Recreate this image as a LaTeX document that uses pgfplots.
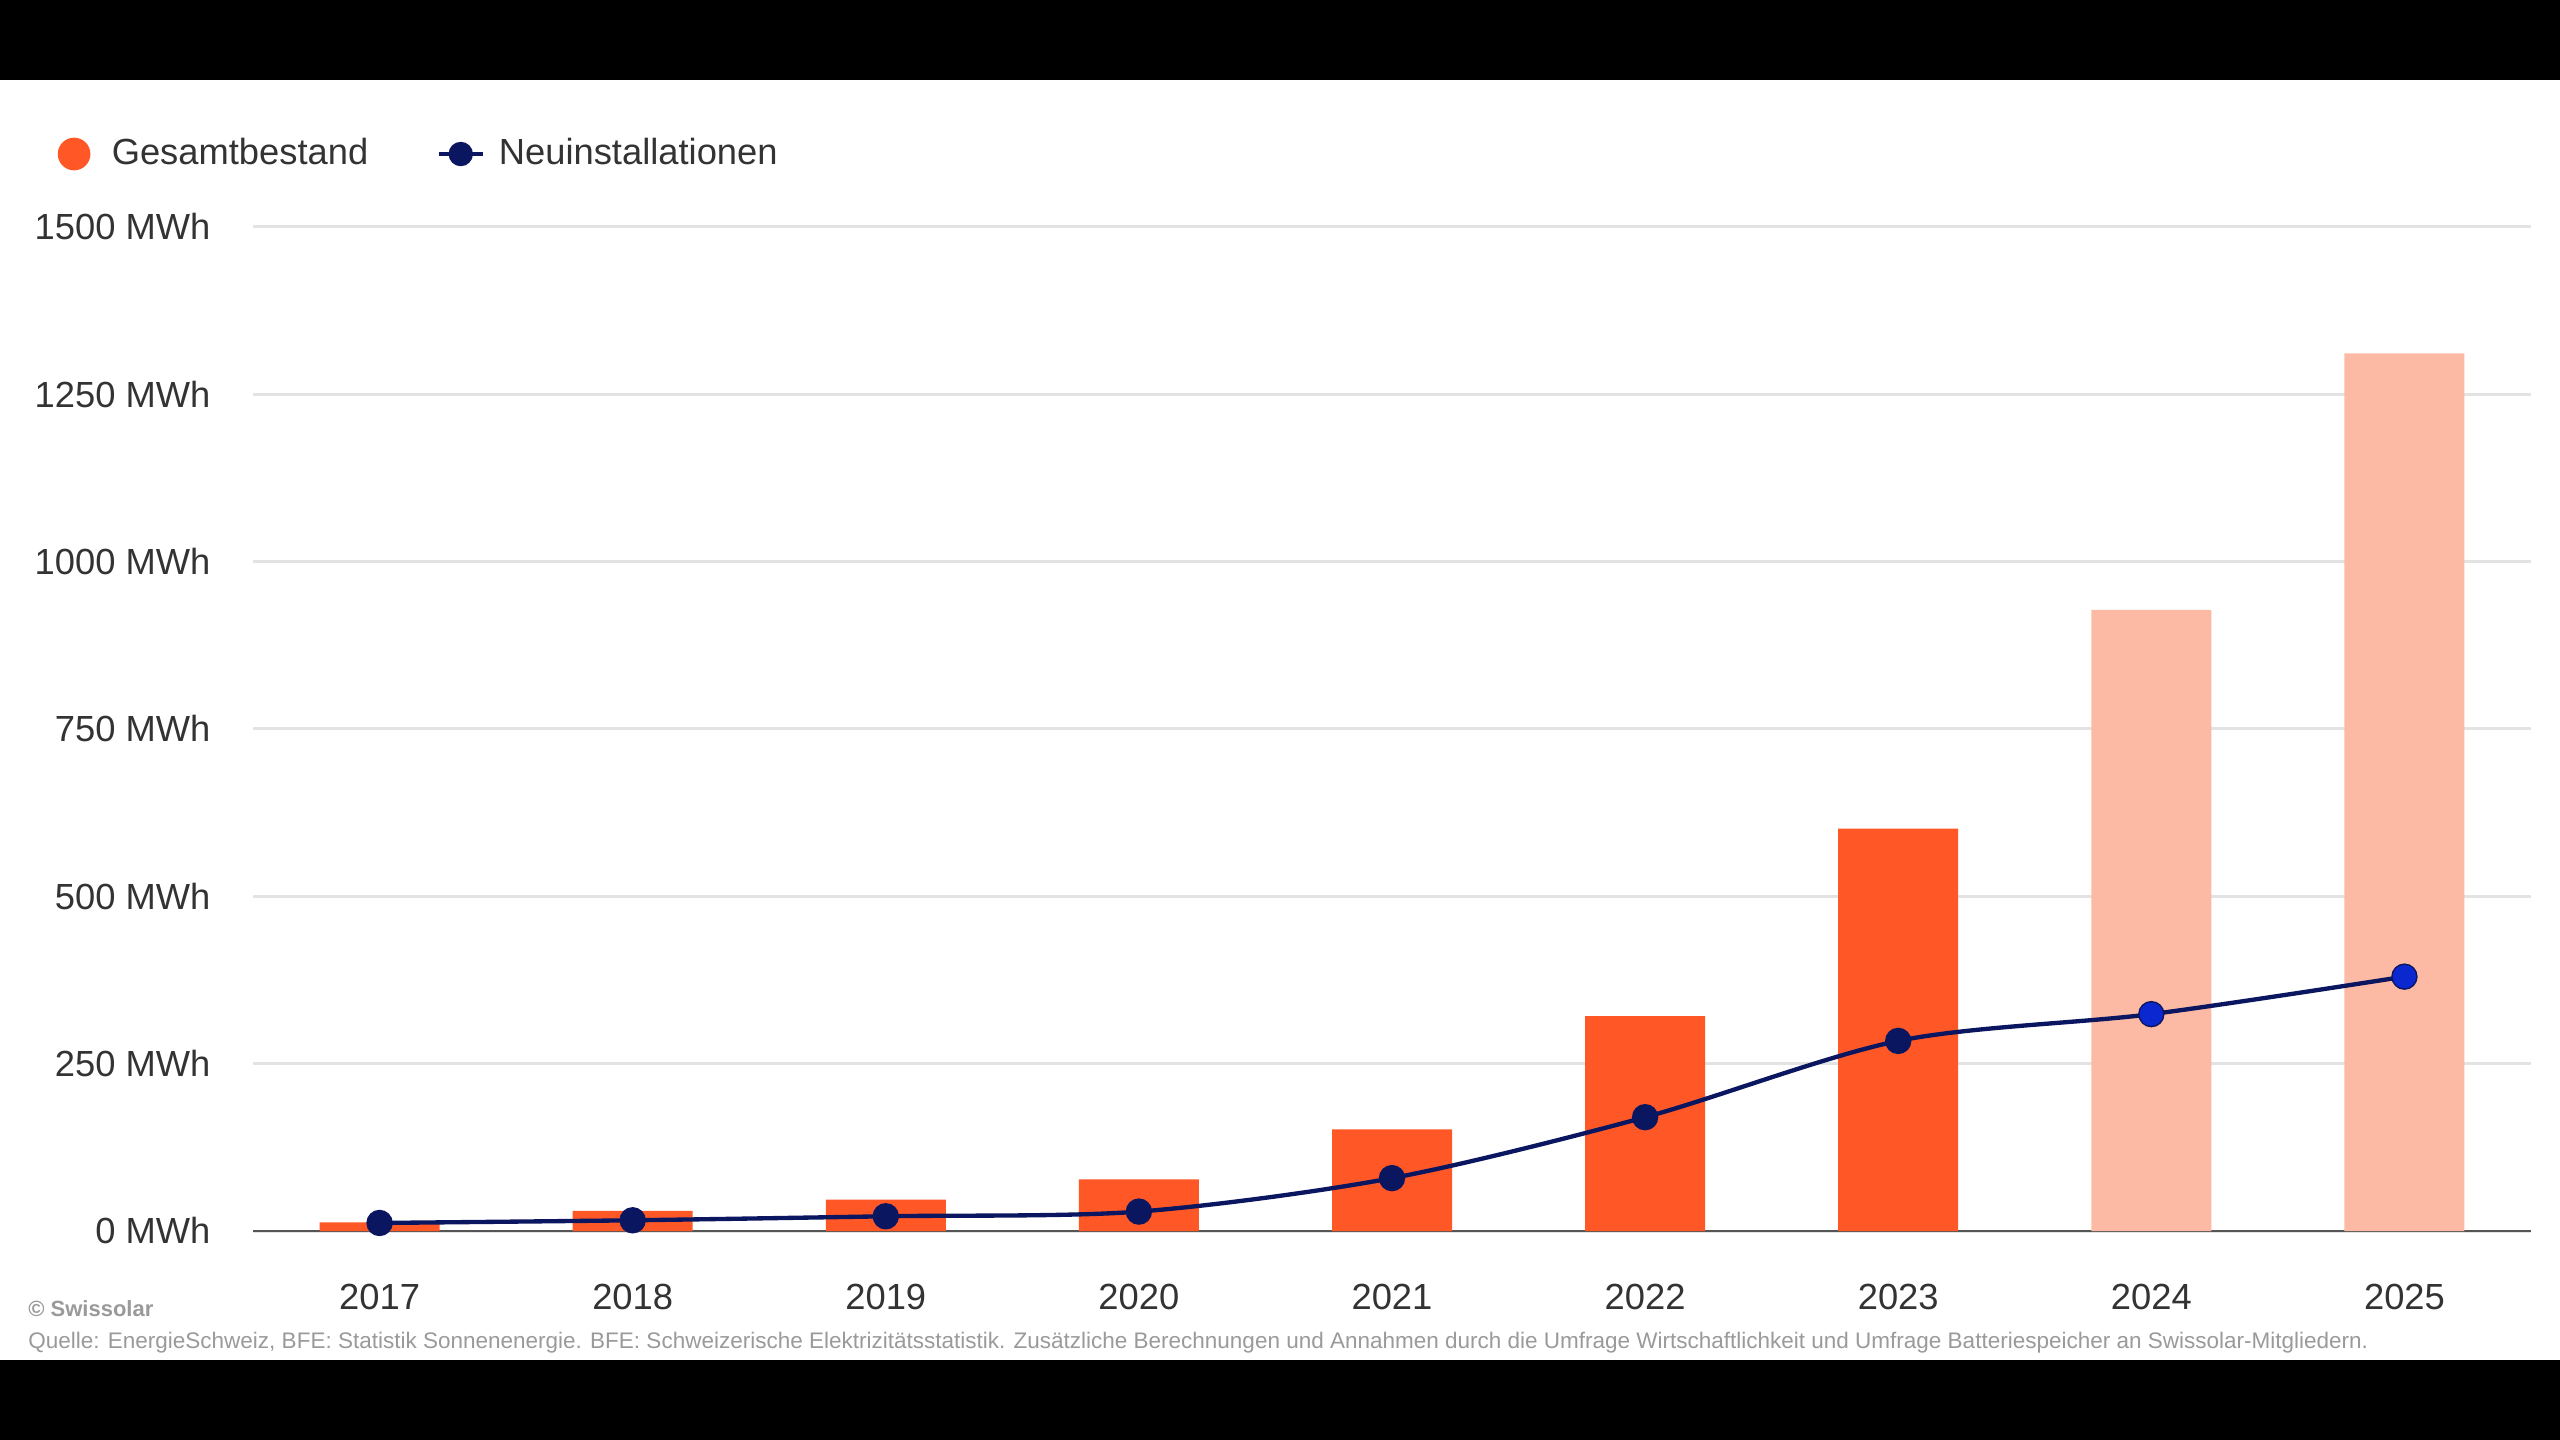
\documentclass[border=0pt]{standalone}
\usepackage{pgfplots}
\pgfplotsset{compat=1.18}
\usepackage{fontspec}
\setmainfont{Liberation Sans}

\definecolor{barorange}{HTML}{FF5726}
\definecolor{barlight}{HTML}{FCB9A4}
\definecolor{navy}{HTML}{0B1660}
\definecolor{brightblue}{HTML}{0B27D0}
\definecolor{txt}{HTML}{333333}
\definecolor{gridgray}{HTML}{E3E3E3}
\definecolor{axisgray}{HTML}{555555}
\definecolor{footgray}{HTML}{9A9A9A}

\newcommand{\lblfont}{\fontsize{10.9bp}{13bp}\selectfont}

\begin{document}
\begin{tikzpicture}
\path[use as bounding box] (0,0) rectangle (768bp,432bp);
\fill[white] (0,24bp) rectangle (768bp,408bp);
\fill[black] (0,0) rectangle (768bp,24bp);
\fill[black] (0,408bp) rectangle (768bp,432bp);

\begin{axis}[
    at={(75.9bp,62.7bp)}, anchor=south west,
    width=683.4bp, height=301.2bp, scale only axis,
    xmin=-0.5, xmax=8.5,
    ymin=0, ymax=1500,
    xtick={0,1,2,3,4,5,6,7,8},
    xticklabels={2017,2018,2019,2020,2021,2022,2023,2024,2025},
    ytick={0,250,500,750,1000,1250,1500},
    yticklabels={0 MWh,250 MWh,500 MWh,750 MWh,1000 MWh,1250 MWh,1500 MWh},
    axis y line*=left,
    y axis line style={draw=none},
    axis x line*=bottom,
    x axis line style={color=axisgray, line width=0.7bp, -},
    ymajorgrids=true,
    grid style={color=gridgray, line width=0.9bp},
    major tick length=0pt,
    tick label style={font=\lblfont, text=txt, inner sep=0pt},
    yticklabel style={anchor=east, xshift=-12.6bp},
    xticklabel style={anchor=base, yshift=-23.5bp},
    legend columns=2,
    legend cell align=left,
    legend style={
        at={(-0.086,1.0727)}, anchor=west,
        draw=none, fill=none, inner sep=0pt,
        font=\lblfont, text=txt,
        nodes={inner sep=0pt},
        /tikz/column 1/.style={column sep=6.4bp},
        /tikz/column 2/.style={column sep=20.5bp},
        /tikz/column 3/.style={column sep=4.2bp},
    },
]

% Gesamtbestand (bis 2023)
\addplot[ybar, bar width=36bp, bar shift=0pt, fill=barorange, draw=none,
    legend image code/.code={\fill[barorange] (4.9bp,0bp) circle (4.9bp);}]
    coordinates {(0,13) (1,30) (2,47) (3,77) (4,152) (5,321) (6,601)};
\addlegendentry{Gesamtbestand}

% Gesamtbestand (Prognose)
\addplot[ybar, bar width=36bp, bar shift=0pt, fill=barlight, draw=none, forget plot]
    coordinates {(7,928) (8,1311)};

% Neuinstallationen
\addplot[smooth, tension=0.5, color=navy, line width=1.3bp,
    mark=*, mark size=3.3bp, mark options={fill=navy, draw=navy},
    legend image code/.code={
        \draw[navy, line width=1.3bp] (0bp,0bp) -- (13.2bp,0bp);
        \fill[navy] (6.6bp,0bp) circle (3bp);}]
    coordinates {(0,12) (1,16) (2,22) (3,29) (4,79) (5,170) (6,284) (7,324) (8,380)};
\addlegendentry{Neuinstallationen}

\addplot[only marks, mark=*, mark size=3.3bp, mark options={fill=brightblue, draw=brightblue}, forget plot]
    coordinates {(7,324) (8,380)};
\end{axis}

\node[anchor=base west, inner sep=0pt, text=footgray, font=\fontsize{6.6bp}{8bp}\selectfont\bfseries]
    at (8.3bp,37bp) {© Swissolar};
\node[anchor=base west, inner sep=0pt, text=footgray, font=\fontsize{6.75bp}{8bp}\selectfont]
    at (8.3bp,27.6bp) {Quelle: EnergieSchweiz, BFE: Statistik Sonnenenergie. BFE: Schweizerische Elektrizitätsstatistik. Zusätzliche Berechnungen und Annahmen durch die Umfrage Wirtschaftlichkeit und Umfrage Batteriespeicher an Swissolar-Mitgliedern.};
\end{tikzpicture}
\end{document}
